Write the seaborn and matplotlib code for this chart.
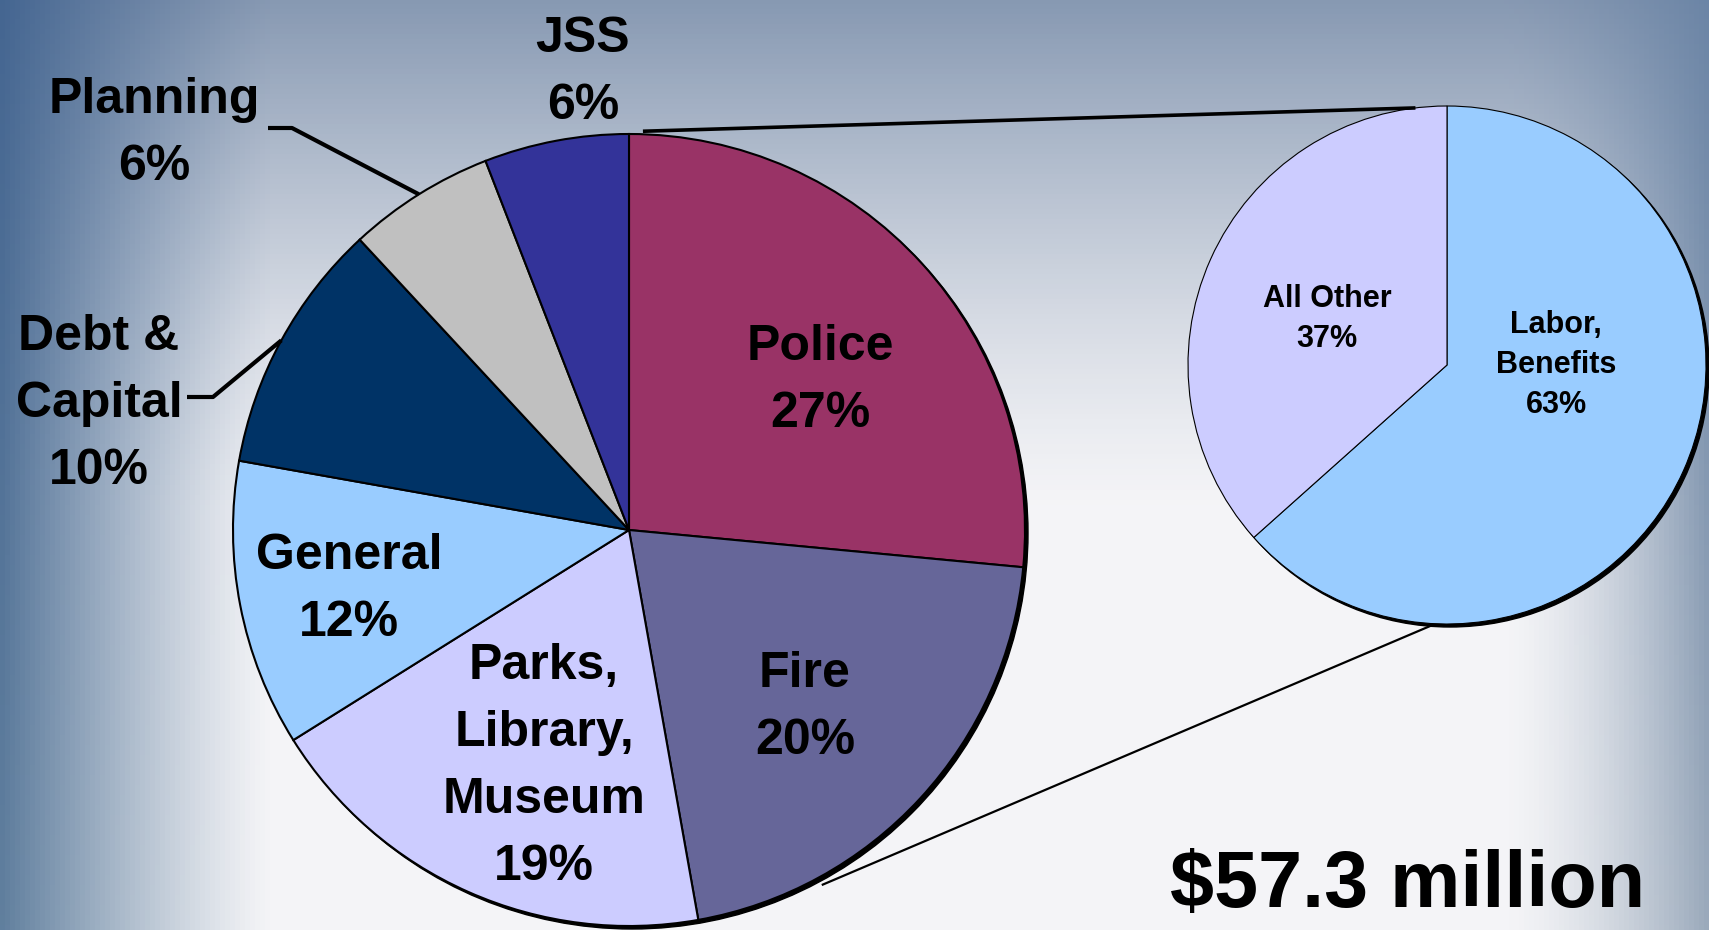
import numpy as np
import matplotlib
matplotlib.use("Agg")
import matplotlib.pyplot as plt
from matplotlib.patches import Circle
import seaborn as sns

# budget shares, % (wedge sizes, printed labels rounded)
dept_names = ["Police", "Fire", "Parks,\nLibrary,\nMuseum", "General", "Debt &\nCapital", "Planning", "JSS"]
dept_share = [26.5, 20.7, 18.9, 11.7, 10.3, 6.0, 5.9]
dept_label = [27, 20, 19, 12, 10, 6, 6]
dept_colors = ["#993366", "#666699", "#CCCCFF", "#99CCFF", "#003366", "#C0C0C0", "#333399"]

# police split, %
police_names = ["Labor,\nBenefits", "All Other"]
police_share = [63.4, 36.6]
police_label = [63, 37]
police_colors = ["#99CCFF", "#CCCCFF"]

total_text = "$57.3 million"

sns.set_theme(style="white")
plt.rcParams["font.family"] = ["Liberation Sans", "DejaVu Sans"]

W, H = 1709, 930
fig = plt.figure(figsize=(W / 100, H / 100), dpi=100)
ax = fig.add_axes([0, 0, 1, 1])

# background gradient
ys, xs = np.mgrid[0:H:5, 0:W:5]
t = ys / H
top = np.array([0.53, 0.60, 0.70])
low = np.array([0.96, 0.96, 0.97])
wv = np.clip(1 - t / 0.55, 0, 1) ** 1.3
bg = low * (1 - wv[..., None]) + top * wv[..., None]
left_col = np.array([0.27, 0.40, 0.57]) * (1 - t[..., None]) + np.array([0.38, 0.50, 0.62]) * t[..., None]
wl = np.clip(1 - xs / 270, 0, 1) ** 1.2
bg = bg * (1 - wl[..., None]) + left_col * wl[..., None]
right_col = np.array([0.42, 0.52, 0.65]) * (1 - t[..., None]) + np.array([0.60, 0.66, 0.73]) * t[..., None]
wr = np.clip((xs - 1500) / 209, 0, 1) ** 1.5
bg = bg * (1 - wr[..., None]) + right_col * wr[..., None]
ax.imshow(bg, extent=(0, W, 0, H), origin="upper", zorder=0, aspect="auto")

main_c, main_r = (629, 400), 396
small_c, small_r = (1447, 565), 259

# shadows behind pies
ax.add_patch(Circle((main_c[0] + 3, main_c[1] - 3), main_r, color="black", zorder=1))
ax.add_patch(Circle((small_c[0] + 3, small_c[1] - 3), small_r, color="black", zorder=1))

wedges, _ = ax.pie(dept_share, colors=sns.color_palette(dept_colors), startangle=90,
                   counterclock=False, center=main_c, radius=main_r, frame=True,
                   wedgeprops=dict(edgecolor="black", linewidth=1.5))
wedges2, _ = ax.pie(police_share, colors=sns.color_palette(police_colors), startangle=90,
                    counterclock=False, center=small_c, radius=small_r, frame=True,
                    wedgeprops=dict(edgecolor="black", linewidth=0.8))
for w in wedges + wedges2:
    w.set_zorder(2)


def polar(c, r, ang):
    a = np.deg2rad(ang)
    return c[0] + r * np.cos(a), c[1] + r * np.sin(a)


def put(x, y, text, size, ls=1.34):
    lines = text.split("\n")
    px = size * 100 / 72
    step = px * ls
    cap = px * 0.716
    b0 = y - cap / 2 + (len(lines) - 1) * step / 2
    for i, line in enumerate(lines):
        ax.text(x, b0 - i * step, line, ha="center", va="baseline", fontsize=size,
                fontweight="bold", color="black", zorder=5)


# labels (centre of each text block)
main_pos = {"Police": (820, 554), "Fire": (805, 227), "Parks,\nLibrary,\nMuseum": (544, 168),
            "General": (349, 345), "Debt &\nCapital": (99, 531), "Planning": (154, 801),
            "JSS": (583, 862)}
for name, pct in zip(dept_names, dept_label):
    x, y = main_pos[name]
    put(x, y, f"{name}\n{pct}%", 36)

small_pos = {"Labor,\nBenefits": (1556, 568), "All Other": (1327, 614)}
for name, pct in zip(police_names, police_label):
    x, y = small_pos[name]
    put(x, y, f"{name}\n{pct}%", 22, ls=1.3)

# leader lines for the outside labels
mid = {n: (w.theta1 + w.theta2) / 2 for n, w in zip(dept_names, wedges)}
ex, ey = polar(main_c, main_r, mid["Planning"])
ax.plot([268, 292, ex], [802, 802, ey], color="black", lw=3, zorder=4, solid_capstyle="butt")
ex, ey = polar(main_c, main_r, mid["Debt &\nCapital"])
ax.plot([187, 213, ex], [533, 533, ey], color="black", lw=3, zorder=4, solid_capstyle="butt")

# connector lines between the pies
x1, y1 = polar(main_c, main_r + 3, 88)
x2, y2 = polar(small_c, small_r, 97)
ax.plot([x1, x2], [y1, y2], color="black", lw=2.6, zorder=3, solid_capstyle="butt")
x1, y1 = polar(main_c, main_r + 8, -61.5)
x2, y2 = polar(small_c, small_r + 1, -93)
ax.plot([x1, x2], [y1, y2], color="black", lw=1.6, zorder=3, solid_capstyle="butt")

ax.text(1408, 23, total_text, ha="center", va="baseline", fontsize=57,
        fontweight="bold", color="black", zorder=5)

ax.set_xlim(0, W)
ax.set_ylim(0, H)
ax.set_aspect("auto")
ax.axis("off")

fig.savefig("out.png", dpi=100)
